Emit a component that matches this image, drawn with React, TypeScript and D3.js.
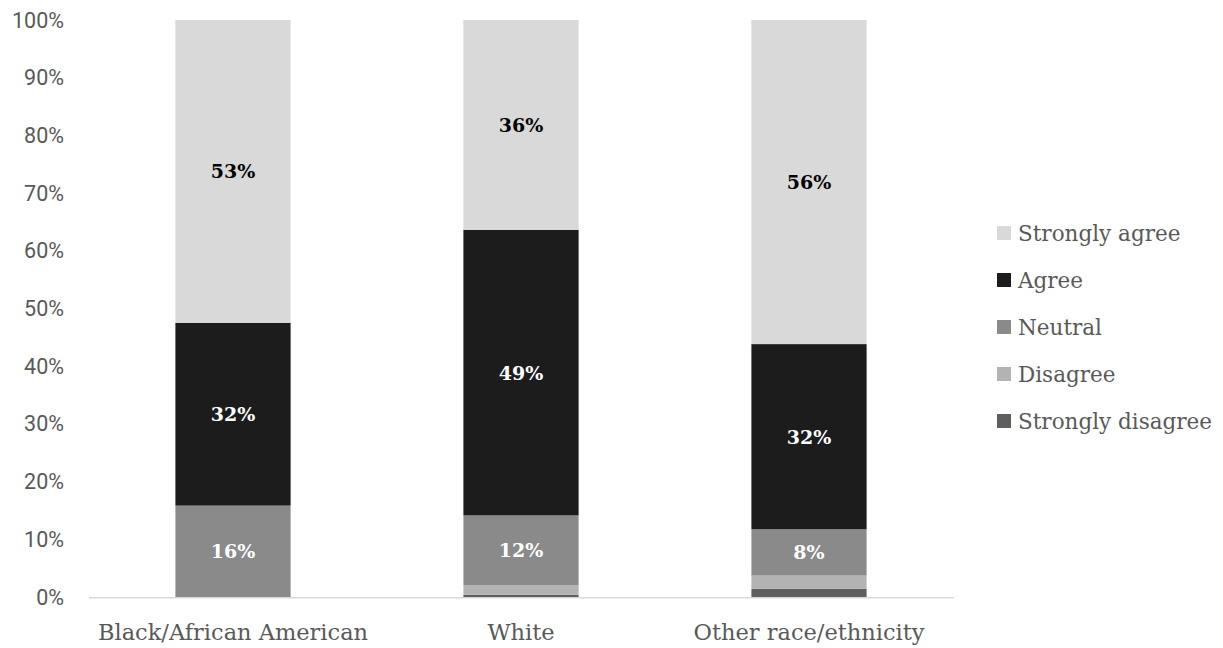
import React from 'react';
import * as d3 from 'd3';

// Survey responses by race/ethnicity (percent of respondents)
const categories = ['Black/African American', 'White', 'Other race/ethnicity'];
const responses = ['Strongly disagree', 'Disagree', 'Neutral', 'Agree', 'Strongly agree'];
const stronglyDisagree = [0, 0.4, 1.4];
const disagree = [0, 1.6, 2.3];
const neutral = [16, 12, 8];
const agree = [32, 49, 32];
const stronglyAgree = [53, 36, 56];
const yTickValues = [0, 0.1, 0.2, 0.3, 0.4, 0.5, 0.6, 0.7, 0.8, 0.9, 1];
const labelledResponses = ['Neutral', 'Agree', 'Strongly agree'];

const colors: Record<string, string> = {
  'Strongly disagree': '#5f5f5f',
  'Disagree': '#b3b3b3',
  'Neutral': '#8a8a8a',
  'Agree': '#1c1c1c',
  'Strongly agree': '#d9d9d9',
};
const labelColors: Record<string, string> = {
  'Neutral': '#ffffff',
  'Agree': '#ffffff',
  'Strongly agree': '#000000',
};

const W = 1223;
const H = 648;
const sansFont = "Roboto, 'DejaVu Sans', sans-serif";
const slabFont = "'Roboto Slab', 'DejaVu Serif', serif";
const textGrey = '#595959';

const seriesValues: Record<string, number[]> = {
  'Strongly disagree': stronglyDisagree,
  'Disagree': disagree,
  'Neutral': neutral,
  'Agree': agree,
  'Strongly agree': stronglyAgree,
};

export default function App() {
  const rows = categories.map((c, i) => {
    const r: Record<string, any> = { category: c };
    responses.forEach((k) => (r[k] = seriesValues[k][i]));
    return r;
  });

  const stacked = d3
    .stack<Record<string, any>>()
    .keys(responses)
    .offset(d3.stackOffsetExpand)(rows);

  const x = d3
    .scaleBand<string>()
    .domain(categories)
    .range([89, 953])
    .paddingInner(0.6)
    .paddingOuter(0.3);
  const y = d3.scaleLinear().domain([0, 1]).range([597, 20]);
  const pct = d3.format('.0%');

  const legendItems = [...responses].reverse();
  const legendY = d3
    .scalePoint<string>()
    .domain(legendItems)
    .range([233, 421]);

  return (
    <div style={{ position: 'absolute', left: 0, top: 0 }}>
      <svg width={W} height={H} viewBox={`0 0 ${W} ${H}`} style={{ display: 'block', background: '#fff' }}>
        {/* y axis labels */}
        {yTickValues.map((t) => (
          <text
            key={t}
            x={64}
            y={y(t)}
            textAnchor="end"
            dominantBaseline="central"
            fontFamily={sansFont}
            fontSize={21.5}
            fill={textGrey}
          >
            {pct(t)}
          </text>
        ))}

        {/* stacked bars */}
        {stacked.map((layer) => (
          <g key={layer.key} fill={colors[layer.key]}>
            {layer.map((d, i) => {
              const h = y(d[0]) - y(d[1]);
              if (h <= 0) return null;
              return (
                <rect
                  key={categories[i]}
                  x={x(categories[i])}
                  y={y(d[1])}
                  width={x.bandwidth()}
                  height={h}
                />
              );
            })}
          </g>
        ))}

        {/* value labels */}
        {stacked
          .filter((layer) => labelledResponses.includes(layer.key))
          .map((layer) => (
            <g key={layer.key}>
              {layer.map((d, i) => (
                <text
                  key={categories[i]}
                  x={(x(categories[i]) as number) + x.bandwidth() / 2}
                  y={(y(d[0]) + y(d[1])) / 2}
                  textAnchor="middle"
                  dominantBaseline="central"
                  fontFamily={slabFont}
                  fontWeight="bold"
                  fontSize={19}
                  fill={labelColors[layer.key]}
                >
                  {`${seriesValues[layer.key][i]}%`}
                </text>
              ))}
            </g>
          ))}

        {/* baseline */}
        <line x1={89} x2={954} y1={y(0) + 0.75} y2={y(0) + 0.75} stroke="#d9d9d9" strokeWidth={1.5} />

        {/* category labels */}
        {categories.map((c) => (
          <text
            key={c}
            x={(x(c) as number) + x.bandwidth() / 2}
            y={632}
            textAnchor="middle"
            dominantBaseline="central"
            fontFamily={slabFont}
            fontSize={22.5}
            fill={textGrey}
          >
            {c}
          </text>
        ))}

        {/* legend */}
        {legendItems.map((k) => (
          <g key={k} transform={`translate(997, ${legendY(k)})`}>
            <rect x={0} y={-7} width={14} height={14} fill={colors[k]} />
            <text
              x={21}
              y={0}
              dominantBaseline="central"
              fontFamily={slabFont}
              fontSize={21.5}
              fill={textGrey}
            >
              {k}
            </text>
          </g>
        ))}
      </svg>
    </div>
  );
}
